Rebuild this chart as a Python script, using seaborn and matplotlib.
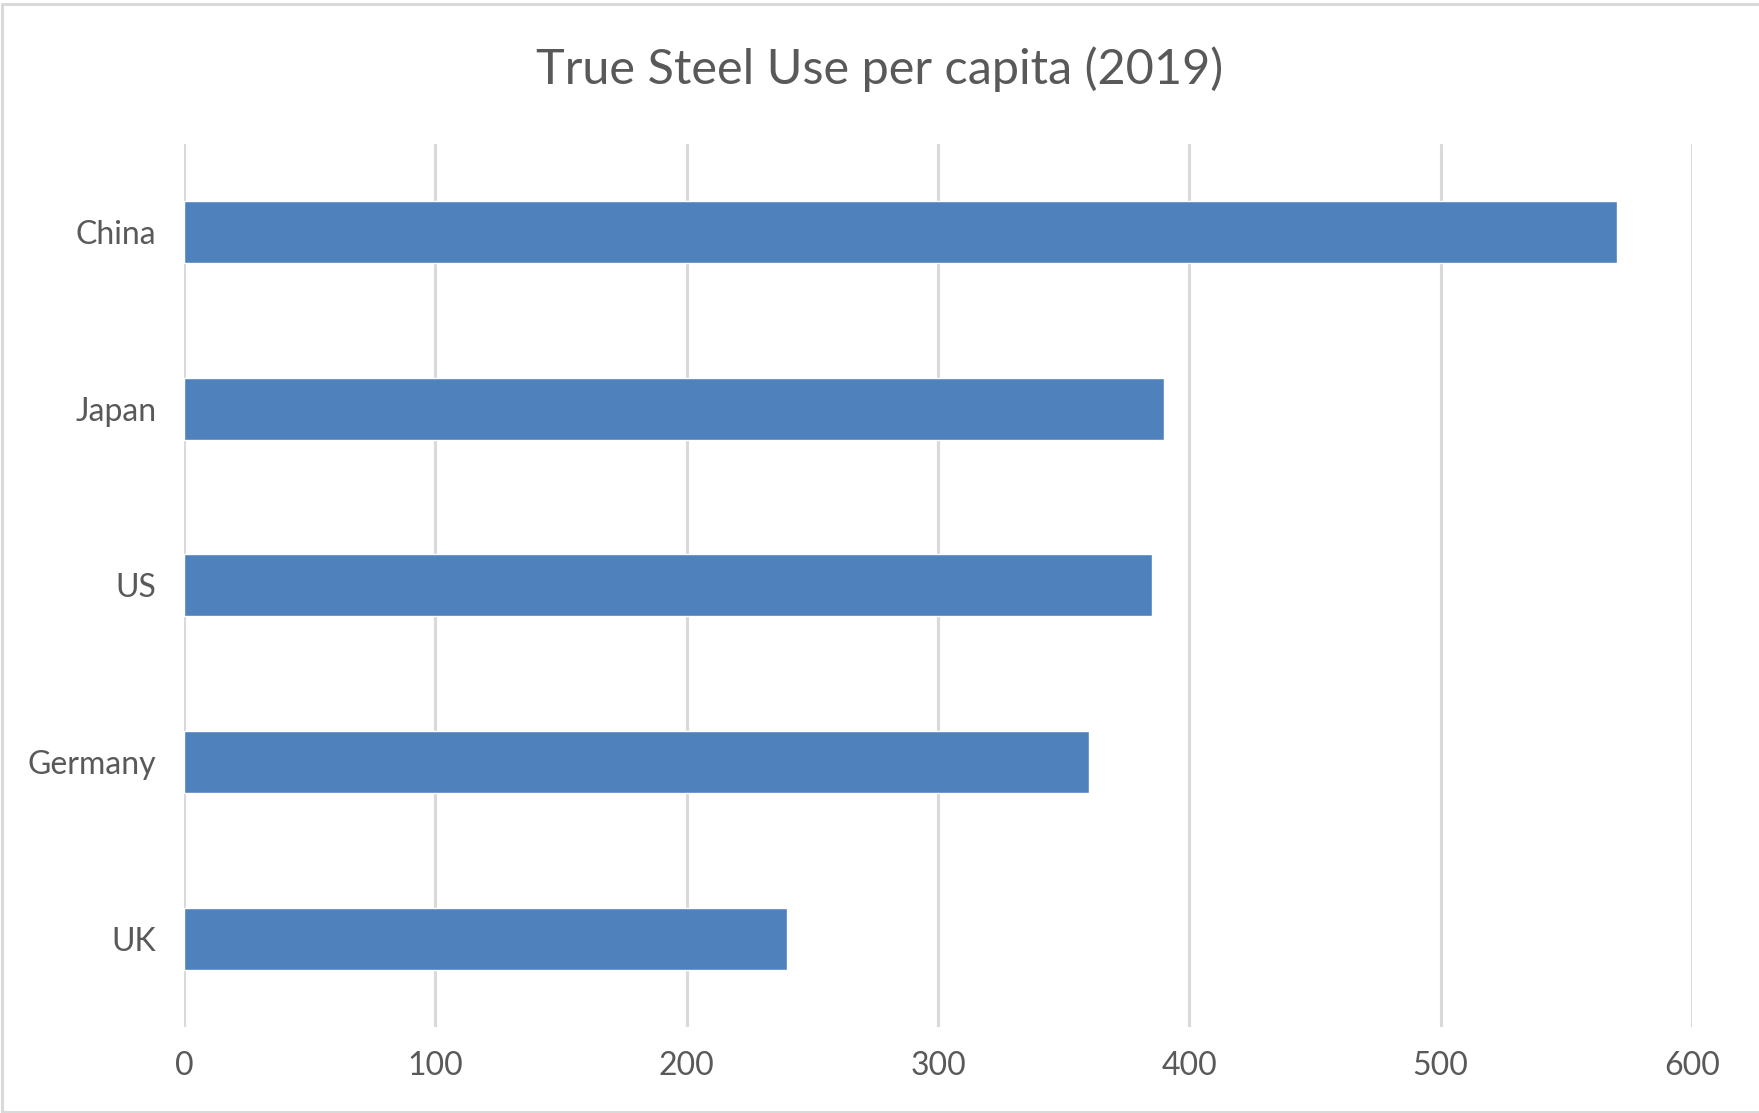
import matplotlib
matplotlib.use("Agg")
import matplotlib.pyplot as plt
import seaborn as sns
import pandas as pd
from matplotlib.lines import Line2D

# Steel use per capita, 2019 (kg)
countries = ["China", "Japan", "US", "Germany", "UK"]
steel_use = [570, 390, 385, 360, 240]
x_ticks = [0, 100, 200, 300, 400, 500, 600]

df = pd.DataFrame({"country": countries, "steel": steel_use})

sns.set_theme(style="white")
plt.rcParams["font.family"] = ["Lato", "DejaVu Sans"]

text_color = "#595959"
grid_color = "#d9d9d9"
bar_color = "#4F81BD"

W, H = 1759, 1113
fig = plt.figure(figsize=(W / 100, H / 100), dpi=100)
ax = fig.add_axes([184 / W, 1 - 1027 / H, (1692 - 184) / W, (1027 - 143.6) / H])

sns.barplot(data=df, x="steel", y="country", orient="h", color=bar_color,
            saturation=1, width=0.35, ax=ax, zorder=3)

ax.set_xlim(0, 600)
ax.set_ylim(len(countries) - 0.5, -0.5)
ax.set_xticks(x_ticks)
ax.set_xticklabels([str(t) for t in x_ticks])
ax.set_xlabel("")
ax.set_ylabel("")

for t in x_ticks:
    ax.axvline(t, color=grid_color, lw=2.2, zorder=1)

for side in ["top", "right", "bottom", "left"]:
    ax.spines[side].set_visible(False)

ax.tick_params(axis="both", length=0, colors=text_color, labelsize=23)
ax.tick_params(axis="y", pad=20)
ax.tick_params(axis="x", pad=17)

fig.text(0.5, 1 - 69 / H, "True Steel Use per capita (2019)", ha="center", va="center",
         fontsize=35, color=text_color)

# light frame: top, left and bottom edges
frame = dict(color="#d9d9d9", lw=2.2, transform=fig.transFigure)
fig.lines.append(Line2D([2 / W, 1], [1 - 4 / H, 1 - 4 / H], **frame))
fig.lines.append(Line2D([2 / W, 2 / W], [1 - 4 / H, 1 / H], **frame))
fig.lines.append(Line2D([2 / W, 1], [1 / H, 1 / H], **frame))

fig.savefig("out.png", dpi=100, facecolor="white")
